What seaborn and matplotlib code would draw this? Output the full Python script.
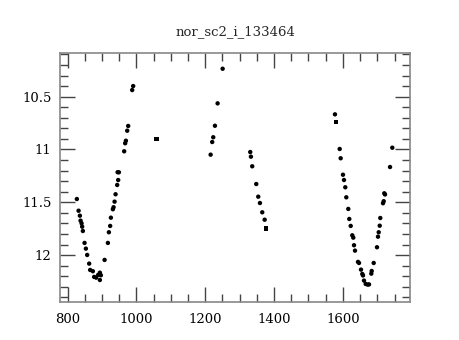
import matplotlib
matplotlib.use("Agg")
import matplotlib.pyplot as plt
from matplotlib.ticker import MultipleLocator
import pandas as pd
import seaborn as sns

# light curve points (time, magnitude)
time_dots = [827.0, 832.0, 835.8, 837.8, 840.7, 842.4, 844.5, 849.4, 853.2, 857.0,
             862.8, 865.7, 873.5, 877.3, 883.1, 889.0, 893.9, 896.8, 893.9,
             907.6, 917.2, 920.1, 923.8, 925.9, 931.7, 933.7, 936.6, 939.5, 944.2,
             947.1, 945.5, 949.1, 964.5, 967.4, 969.5, 973.3, 976.2, 987.8, 990.7,
             1215.7, 1220.3, 1223.3, 1228.2, 1236.0, 1250.6,
             1330.8, 1332.8, 1336.6, 1348.3, 1354.1, 1359.0, 1365.7, 1372.7,
             1577.0, 1590.7, 1593.6, 1600.3, 1603.2, 1607.0, 1609.9, 1615.7, 1618.6,
             1622.7, 1627.3, 1630.2, 1632.3, 1635.2, 1643.9, 1646.8, 1652.6, 1656.4,
             1658.4, 1661.3, 1666.3, 1672.1, 1675.9,
             1682.6, 1683.7, 1689.5, 1699.1, 1702.0, 1704.1, 1707.0, 1708.7, 1716.6,
             1718.6, 1720.3, 1722.4, 1737.0, 1743.6]
mag_dots = [11.469, 11.580, 11.627, 11.674, 11.699, 11.731, 11.772, 11.885, 11.939, 11.999,
            12.081, 12.141, 12.153, 12.207, 12.214, 12.188, 12.167, 12.191, 12.236,
            12.046, 11.885, 11.784, 11.724, 11.646, 11.566, 11.547, 11.494, 11.424, 11.336,
            11.289, 11.215, 11.216, 11.017, 10.941, 10.917, 10.822, 10.777, 10.437, 10.399,
            11.049, 10.929, 10.884, 10.775, 10.563, 10.235,
            11.024, 11.068, 11.159, 11.327, 11.447, 11.507, 11.595, 11.665,
            10.667, 10.995, 11.083, 11.239, 11.289, 11.358, 11.453, 11.563, 11.658,
            11.724, 11.813, 11.835, 11.907, 11.958, 12.065, 12.075, 12.138, 12.179,
            12.193, 12.242, 12.274, 12.280, 12.278,
            12.176, 12.151, 12.075, 11.926, 11.826, 11.784, 11.722, 11.649, 11.509,
            11.490, 11.415, 11.426, 11.166, 10.983]

# a few points drawn as small squares
time_squares = [1058.7, 1376.5, 1579.9]
mag_squares = [10.903, 11.750, 10.737]

title = "nor_sc2_i_133464"

sns.set_style("ticks")
plt.rcParams["font.family"] = ["DejaVu Serif"]

dots = pd.DataFrame({"time": time_dots, "mag": mag_dots})
squares = pd.DataFrame({"time": time_squares, "mag": mag_squares})

fig = plt.figure(figsize=(4.6, 3.4), dpi=100)
ax = fig.add_axes([0.1304, 0.1126, 0.7609, 0.7324])

sns.scatterplot(data=dots, x="time", y="mag", ax=ax, color="black",
                marker="o", s=10, edgecolor="none", linewidth=0)
sns.scatterplot(data=squares, x="time", y="mag", ax=ax, color="black",
                marker="s", s=10, edgecolor="none", linewidth=0)

ax.set_xlim(778, 1795)
ax.set_ylim(12.442, 10.083)
ax.set_xlabel("")
ax.set_ylabel("")
ax.set_title(title, fontsize=9.5, pad=13)

ax.xaxis.set_major_locator(MultipleLocator(200))
ax.xaxis.set_minor_locator(MultipleLocator(50))
ax.yaxis.set_major_locator(MultipleLocator(0.5))
ax.yaxis.set_minor_locator(MultipleLocator(0.1))
ax.set_yticks([10.5, 11, 11.5, 12])
ax.set_yticklabels(["10.5", "11", "11.5", "12"])

ax.tick_params(which="both", direction="in", top=True, right=True,
               colors="#444444", labelcolor="black", labelsize=9.5)
ax.tick_params(which="major", length=11, width=1)
ax.tick_params(which="minor", length=5.5, width=1)
ax.tick_params(axis="x", pad=8)
ax.tick_params(axis="y", pad=6)
for sp in ax.spines.values():
    sp.set_visible(True)
    sp.set_color("#888888")
    sp.set_linewidth(1.2)

fig.savefig("out.png", dpi=100)
